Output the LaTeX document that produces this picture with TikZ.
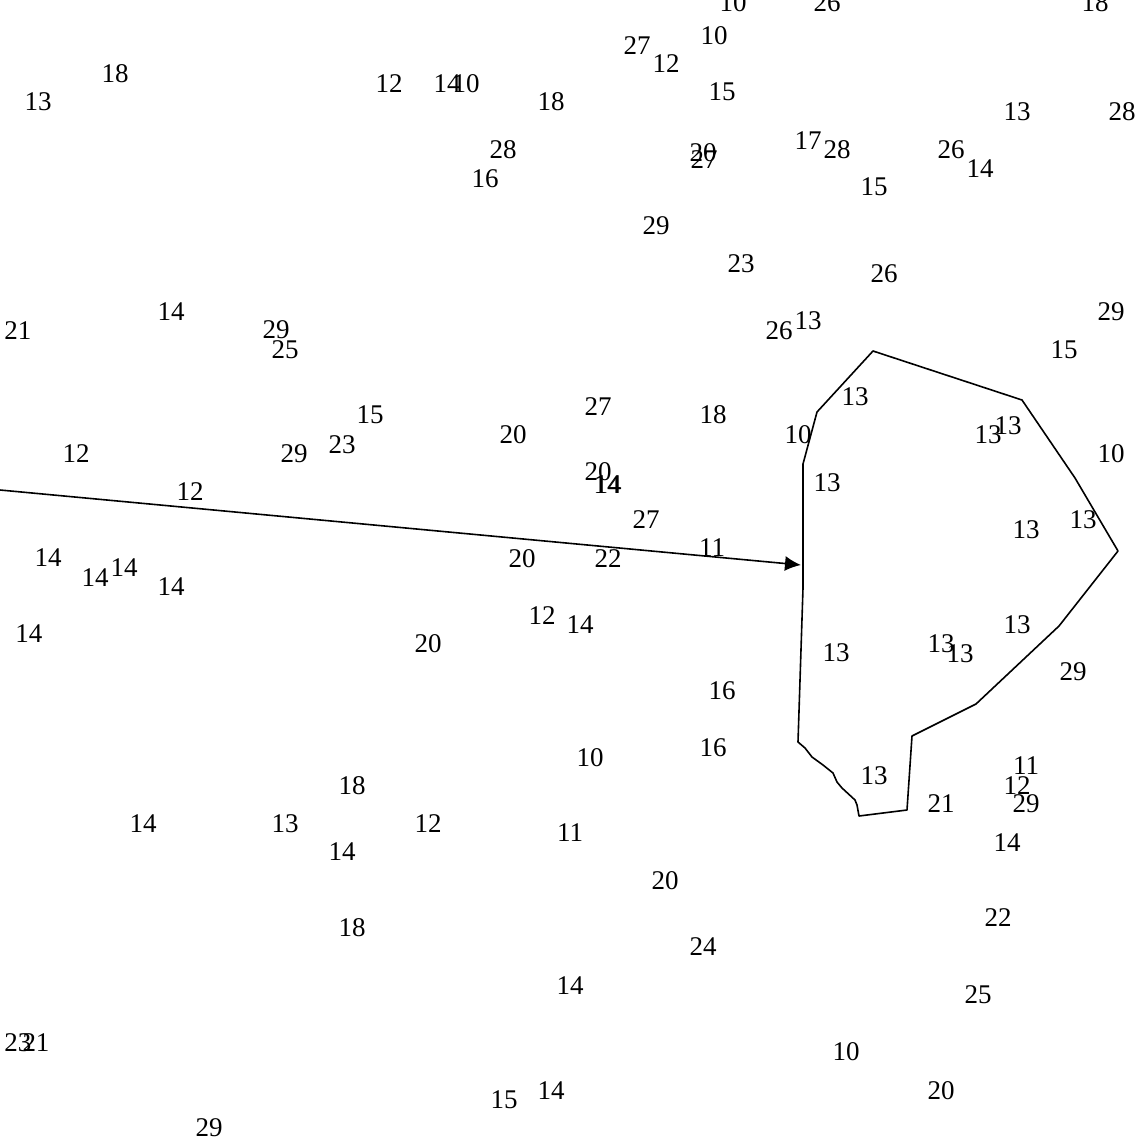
\documentclass[tikz,border=0pt]{standalone}
\usepackage{fontspec}
\setmainfont{Liberation Serif}
\usetikzlibrary{arrows.meta}
\begin{document}
\begin{tikzpicture}[x=1pt,y=-1pt,
  lab/.style={inner sep=0pt,font=\fontsize{27}{27}\selectfont},
  outline/.style={draw=black,line width=1.6pt,line join=round},
  conn/.style={draw=black,line width=1.6pt,-{Latex[length=16pt,width=15pt]}}]
\useasboundingbox (0,0) rectangle (1140,1141);
% labels
\node[lab] (a1) at (733,3) {10};
\node[lab] (a2) at (827,3) {26};
\node[lab] (a3) at (1095,3) {18};
\node[lab] (a4) at (637,46) {27};
\node[lab] (a5) at (666,64) {12};
\node[lab] (a6) at (714,36) {10};
\node[lab] (a7) at (722,92) {15};
\node[lab] (a8) at (1017,112) {13};
\node[lab] (a9) at (1122,112) {28};
\node[lab] (a10) at (703,153) {20};
\node[lab] (a11) at (704,160) {27};
\node[lab] (a12) at (808,141) {17};
\node[lab] (a13) at (837,150) {28};
\node[lab] (a14) at (951,150) {26};
\node[lab] (a15) at (980,169) {14};
\node[lab] (a16) at (874,187) {15};
\node[lab] (a17) at (115,74) {18};
\node[lab] (a18) at (38,102) {13};
\node[lab] (a19) at (389,84) {12};
\node[lab] (a20) at (447,84) {14};
\node[lab] (a21) at (466,84) {10};
\node[lab] (a22) at (551,102) {18};
\node[lab] (a23) at (503,150) {28};
\node[lab] (a24) at (485,179) {16};
\node[lab] (a25) at (656,226) {29};
\node[lab] (a26) at (741,264) {23};
\node[lab] (a27) at (884,274) {26};
\node[lab] (a28) at (1111,312) {29};
\node[lab] (a29) at (779,331) {26};
\node[lab] (a30) at (808,321) {13};
\node[lab] (a31) at (1064,350) {15};
\node[lab] (a32) at (18,331) {21};
\node[lab] (a33) at (171,312) {14};
\node[lab] (a34) at (276,330) {29};
\node[lab] (a35) at (285,350) {25};
\node[lab] (a36) at (370,415) {15};
\node[lab] (a37) at (342,445) {23};
\node[lab] (a38) at (294,454) {29};
\node[lab] (a39) at (76,454) {12};
\node[lab] (a40) at (190,492) {12};
\node[lab] (a41) at (513,435) {20};
\node[lab] (a42) at (598,407) {27};
\node[lab] (a43) at (713,415) {18};
\node[lab] (a44) at (798,435) {10};
\node[lab] (a45) at (855,397) {13};
\node[lab] (a46) at (988,435) {13};
\node[lab] (a47) at (1008,426) {13};
\node[lab] (a48) at (1111,454) {10};
\node[lab] (a49) at (598,472) {20};
\node[lab] (a50) at (607,485) {14};
\node[lab] (a51) at (608,485) {14};
\node[lab] (a52) at (646,520) {27};
\node[lab] (a53) at (712,548) {11};
\node[lab] (a54) at (827,483) {13};
\node[lab] (a55) at (1026,530) {13};
\node[lab] (a56) at (1083,520) {13};
\node[lab] (a57) at (48,558) {14};
\node[lab] (a58) at (95,578) {14};
\node[lab] (a59) at (124,568) {14};
\node[lab] (a60) at (171,587) {14};
\node[lab] (a61) at (522,559) {20};
\node[lab] (a62) at (608,559) {22};
\node[lab] (a63) at (29,634) {14};
\node[lab] (a64) at (542,616) {12};
\node[lab] (a65) at (580,625) {14};
\node[lab] (a66) at (428,644) {20};
\node[lab] (a67) at (836,653) {13};
\node[lab] (a68) at (941,644) {13};
\node[lab] (a69) at (960,654) {13};
\node[lab] (a70) at (1017,625) {13};
\node[lab] (a71) at (1073,672) {29};
\node[lab] (a72) at (722,691) {16};
\node[lab] (a73) at (713,748) {16};
\node[lab] (a74) at (590,758) {10};
\node[lab] (a75) at (352,786) {18};
\node[lab] (a76) at (874,776) {13};
\node[lab] (a77) at (1026,766) {11};
\node[lab] (a78) at (1017,786) {12};
\node[lab] (a79) at (1026,804) {29};
\node[lab] (a80) at (941,804) {21};
\node[lab] (a81) at (143,824) {14};
\node[lab] (a82) at (285,824) {13};
\node[lab] (a83) at (428,824) {12};
\node[lab] (a84) at (342,852) {14};
\node[lab] (a85) at (570,833) {11};
\node[lab] (a86) at (1007,843) {14};
\node[lab] (a87) at (665,881) {20};
\node[lab] (a88) at (352,928) {18};
\node[lab] (a89) at (703,947) {24};
\node[lab] (a90) at (998,918) {22};
\node[lab] (a91) at (570,986) {14};
\node[lab] (a92) at (978,995) {25};
\node[lab] (a93) at (18,1043) {23};
\node[lab] (a94) at (36,1043) {21};
\node[lab] (a95) at (846,1052) {10};
\node[lab] (a96) at (504,1100) {15};
\node[lab] (a97) at (551,1091) {14};
\node[lab] (a98) at (941,1091) {20};
\node[lab] (a99) at (209,1128) {29};
% outline
\draw[outline] (873,351) -- (1022,400) -- (1075,478) -- (1118,551) -- (1059,626)
  -- (976,704) -- (912,736) -- (907,810) -- (859,816) -- (857,805) -- (855,800)
  -- (842,788) -- (837,782) -- (833,773) -- (823,765) -- (812,757) -- (805,748)
  -- (798,742) -- (803,588) -- (803,464) -- (817,412) -- cycle;
% arrow
\coordinate (src) at (0,490);
\coordinate (dst) at (801,565);
\draw[conn] (src) -- (dst);
\end{tikzpicture}
\end{document}
